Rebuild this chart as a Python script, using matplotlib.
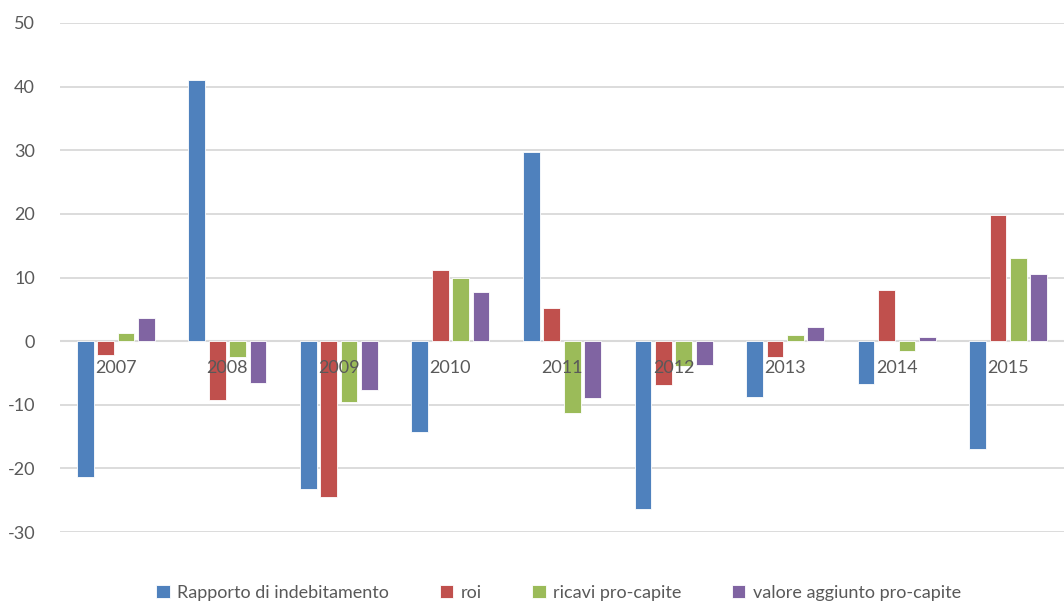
import matplotlib.pyplot as plt
import numpy as np

# dati
anni = ['2007', '2008', '2009', '2010', '2011', '2012', '2013', '2014', '2015']
serie = ['Rapporto di indebitamento', 'roi', 'ricavi pro-capite', 'valore aggiunto pro-capite']
indebitamento = [-21.4, 41.1, -23.2, -14.3, 29.7, -26.3, -8.8, -6.8, -17.0]
roi = [-2.2, -9.2, -24.5, 11.2, 5.2, -6.9, -2.5, 8.1, 19.8]
ricavi = [1.3, -2.5, -9.5, 10.0, -11.3, -3.9, 0.9, -1.6, 13.0]
valore_aggiunto = [3.7, -6.5, -7.6, 7.8, -9.0, -3.7, 2.2, 0.7, 10.6]
colori = ['#4F81BD', '#C0504D', '#9BBB59', '#8064A2']

plt.rcParams['font.family'] = ['Lato', 'DejaVu Sans']
plt.rcParams['axes.unicode_minus'] = False
testo = '#595959'

fig = plt.figure(figsize=(10.64, 6.04), dpi=100)
ax = fig.add_axes([0.0564, 0.119, 0.9436, 0.843])

x = np.arange(len(anni))
step = 0.183
larg = 0.15
for k, (vals, nome, col) in enumerate(zip([indebitamento, roi, ricavi, valore_aggiunto], serie, colori)):
    ax.bar(x + (k - 1.5) * step, vals, larg, color=col, label=nome,
           edgecolor='white', linewidth=0.6, zorder=3)

ax.set_xlim(-0.5, len(anni) - 0.5)
ax.set_ylim(-30, 50)
ax.set_yticks(range(-30, 51, 10))
ax.yaxis.grid(True, color='#d9d9d9', linewidth=1.3, zorder=0)
ax.axhline(0, color='#d9d9d9', linewidth=1.5, zorder=2)
ax.set_xticks([])
ax.tick_params(axis='y', length=0, pad=18, labelsize=13, labelcolor=testo)
for s in ax.spines.values():
    s.set_visible(False)

# etichette delle categorie vicino allo zero
for i, a in enumerate(anni):
    ax.annotate(a, (i, 0), xytext=(0, -27), textcoords='offset pixels',
                ha='center', va='center', fontsize=13, color=testo, zorder=4)

fig.legend(loc='lower center', bbox_to_anchor=(0.525, -0.022), ncol=4, frameon=False,
           fontsize=13, labelcolor=testo, handlelength=0.75, handleheight=0.75,
           handletextpad=0.4, columnspacing=2.8)

plt.savefig('out.png', dpi=100)
